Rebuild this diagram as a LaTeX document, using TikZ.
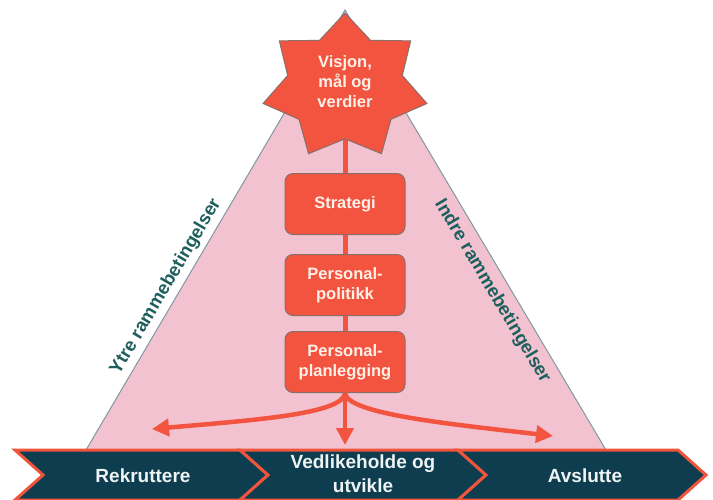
\documentclass[tikz,border=0pt]{standalone}
\usepackage{fontspec}
\setmainfont{Liberation Sans}
\usetikzlibrary{arrows.meta}

\definecolor{flame}{HTML}{F25440}
\definecolor{boxedge}{HTML}{8A6E68}
\definecolor{cream}{HTML}{FFF1E8}
\definecolor{blush}{HTML}{F2C2D0}
\definecolor{slopeline}{HTML}{7F98A3}
\definecolor{navy}{HTML}{0E3D50}
\definecolor{chevedge}{HTML}{F0553C}
\definecolor{pale}{HTML}{EEF3F3}
\definecolor{teal}{HTML}{1E5F5E}

\begin{document}
\begin{tikzpicture}[x=1pt,y=-1pt,
  box/.style={draw=boxedge, line width=1pt, fill=flame, rounded corners=8pt,
    minimum width=120pt, minimum height=61pt, align=center, text=cream,
    inner sep=0pt, font=\fontsize{16.5}{20}\selectfont\bfseries},
  startext/.style={align=center, text=cream, inner sep=0pt,
    font=\fontsize{16.5}{20}\selectfont\bfseries},
  starshape/.style={draw=boxedge, line width=1pt, fill=flame},
  spine/.style={draw=flame, line width=5pt},
  flow/.style={draw=flame, line width=4.5pt, -{Triangle[length=17pt,width=17pt]}},
  chev/.style={fill=navy, draw=chevedge, line width=3pt, line join=miter},
  chevtext/.style={align=center, text=pale, inner sep=0pt,
    font=\fontsize{19}{24}\selectfont\bfseries},
  sidelabel/.style={text=teal, inner sep=0pt,
    font=\fontsize{18.5}{22}\selectfont\bfseries},
]
\useasboundingbox (0,0) rectangle (713,499);

% framing triangle
\coordinate (apex) at (345,10);
\coordinate (bl) at (86,450);
\coordinate (br) at (606,450);
\filldraw[fill=blush, draw=slopeline, line width=1pt] (bl) -- (apex) -- (br) -- cycle;

\path (bl) -- (apex) node[pos=0.355, sloped, above=5pt, sidelabel] (outer) {Ytre rammebetingelser};
\path (apex) -- (br) node[pos=0.62, sloped, below=8pt, sidelabel] (inner) {Indre rammebetingelser};

% anchor points of the spine
\coordinate (starcentre) at (345,87);
\coordinate (lefttip) at (152,429);
\coordinate (midtip) at (345,445);
\coordinate (righttip) at (553,436);

% spine behind the star and boxes
\draw[spine] (starcentre) -- (345,380);

% seven-pointed star
\begin{scope}[shift={(starcentre)}]
  \filldraw[starshape] (270:84 and 74)
    \foreach \k [evaluate=\k as \r using {mod(\k,2)==1 ? 0.7 : 1}] in {1,...,13} {
      -- ({270+\k*360/14}:{84*\r} and {74*\r})
    } -- cycle;
\end{scope}
\node[startext] (vision) at (345,82) {Visjon,\\mål og\\verdier};

% boxes along the spine
\node[box] (strat) at (345,204) {Strategi};
\node[box] (pol) at (345,285) {Personal-\\politikk};
\node[box] (plan) at (345,362) {Personal-\\planlegging};

% branching arrows
\draw[flow] (plan.south) -- (midtip);
\draw[flow] (plan.south) .. controls (343,414) and (255,420) .. (lefttip);
\draw[flow] (plan.south) .. controls (347,414) and (450,424) .. (righttip);

% process chevrons
\filldraw[chev] (15,450) -- (240,450) -- (268,475) -- (240,500) -- (15,500) -- (43,475) -- cycle;
\filldraw[chev] (240,450) -- (458,450) -- (486,475) -- (458,500) -- (240,500) -- (268,475) -- cycle;
\filldraw[chev] (458,450) -- (678,450) -- (706,475) -- (678,500) -- (458,500) -- (486,475) -- cycle;

\node[chevtext] (rek) at (143,476) {Rekruttere};
\node[chevtext] (ved) at (363,474) {Vedlikeholde og\\utvikle};
\node[chevtext] (avs) at (585,476) {Avslutte};
\end{tikzpicture}
\end{document}
